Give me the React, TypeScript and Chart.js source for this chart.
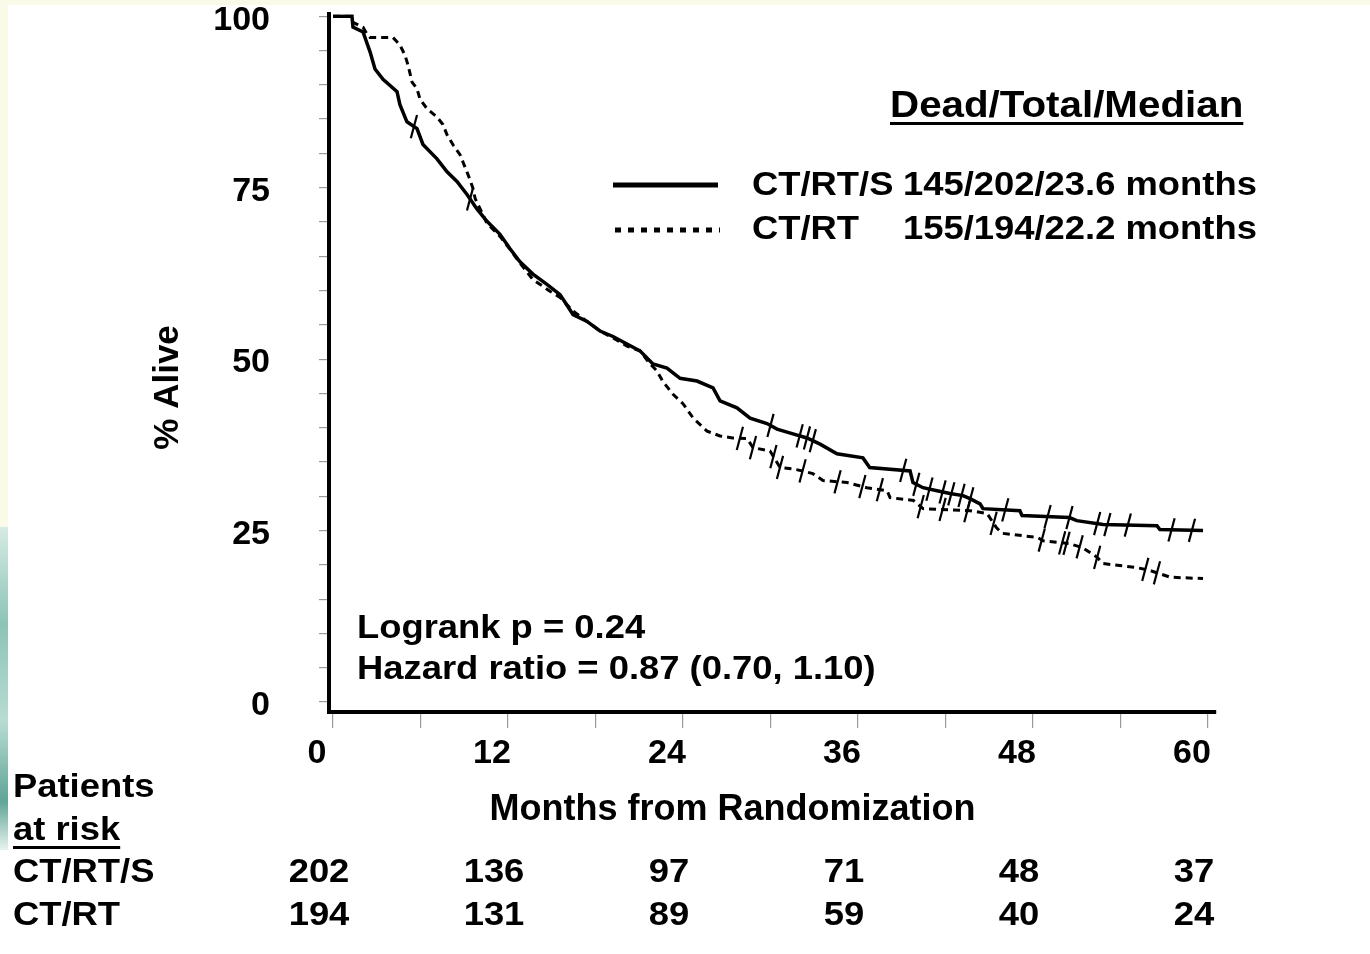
import React, { useEffect, useRef } from 'react';
import { Chart, registerables } from 'chart.js';

Chart.register(...registerables);

// ---------------- DATA ----------------
const seriesNames = ['CT/RT/S', 'CT/RT'];
const legendStats = ['145/202/23.6 months', '155/194/22.2 months'];
const legendHeader = 'Dead/Total/Median';
const statLines = ['Logrank p = 0.24', 'Hazard ratio = 0.87 (0.70, 1.10)'];

// CT/RT/S (solid) Kaplan-Meier curve
const solidMonths = [0, 1.3, 1.37, 2.06, 2.54, 2.88, 3.43, 4.39, 4.59, 5.07, 5.76, 6.17, 7.13, 7.82, 8.5, 9.19, 9.87, 10.56, 11.45, 12.14, 12.82, 13.71, 14.67, 15.57, 16.46, 17.42, 18.31, 19.2, 20.16, 21.05, 21.94, 22.9, 23.8, 24.96, 26.06, 26.54, 27.7, 28.6, 29.76, 30.45, 31.54, 32.5, 33.4, 34.56, 36.34, 36.8, 39.57, 39.77, 40.46, 41.42, 42.3, 43.2, 43.68, 44.37, 44.57, 47.1, 47.25, 50.5, 51.0, 52.8, 56.5, 56.7, 59.66];
const solidAlive = [100, 100, 98.4, 97.7, 94.8, 92.3, 90.8, 89.0, 87.1, 84.6, 83.6, 81.3, 79.2, 77.3, 75.9, 74.0, 71.9, 70.1, 68.2, 66.1, 64.2, 62.4, 60.9, 59.4, 56.5, 55.5, 54.1, 53.3, 52.2, 51.2, 49.3, 48.7, 47.2, 46.8, 45.8, 43.9, 42.9, 41.4, 40.6, 39.8, 39.1, 38.5, 37.6, 36.2, 35.6, 34.2, 33.7, 32.0, 31.25, 30.8, 30.4, 30.1, 29.65, 28.9, 28.2, 27.9, 27.2, 26.9, 26.45, 25.9, 25.7, 25.15, 25.0];

// CT/RT (dashed) Kaplan-Meier curve
const dashedMonths = [0, 1.3, 1.37, 2.06, 2.33, 2.54, 4.11, 4.59, 4.94, 5.14, 5.42, 5.76, 5.97, 6.45, 7.13, 7.54, 7.82, 8.23, 8.71, 9.26, 9.6, 9.75, 10.56, 11.45, 12.14, 12.82, 13.71, 14.88, 15.57, 16.46, 17.42, 18.31, 19.2, 20.16, 21.05, 21.74, 22.2, 22.6, 23.3, 24.0, 24.7, 25.65, 26.54, 27.4, 28.4, 28.8, 29.97, 30.65, 31.5, 32.2, 32.9, 33.6, 35.25, 36.6, 38.0, 38.2, 39.8, 40.46, 43.68, 44.85, 45.5, 45.9, 48.3, 48.7, 50.5, 51.4, 52.4, 52.8, 55.1, 56.0, 57.4, 59.66];
const dashedAlive = [100, 100, 99.1, 98.4, 97.4, 96.9, 96.9, 95.8, 94.3, 92.9, 90.4, 89.4, 87.9, 86.5, 85.3, 84.2, 82.7, 81.25, 79.8, 76.9, 74.9, 73.4, 69.8, 67.9, 66.0, 64.0, 61.6, 59.9, 59.0, 57.0, 55.5, 54.1, 53.1, 51.9, 51.2, 49.3, 48.3, 46.8, 44.9, 43.5, 41.4, 39.5, 38.8, 38.5, 38.4, 37.1, 36.6, 34.2, 34.0, 33.7, 33.3, 32.3, 32.0, 31.25, 30.8, 29.8, 29.4, 28.2, 27.9, 27.5, 25.4, 24.6, 24.0, 23.5, 23.1, 22.5, 21.1, 20.2, 19.6, 19.2, 18.2, 18.0];

// censoring times
const solidCensored = [5.55, 9.4, 30.0, 32.0, 32.5, 32.9, 39.1, 40.0, 40.9, 41.8, 42.4, 43.1, 43.7, 46.1, 49.0, 50.5, 52.4, 53.1, 54.5, 57.5, 58.9];
const dashedCensored = [27.9, 28.8, 30.2, 30.65, 32.2, 34.6, 36.3, 37.5, 40.3, 41.8, 43.5, 45.3, 48.6, 50.0, 50.3, 51.2, 52.4, 55.7, 56.5];

// axes
const xTickValues = [0, 6, 12, 18, 24, 30, 36, 42, 48, 54, 60];
const yTickValues = [0, 5, 10, 15, 20, 25, 30, 35, 40, 45, 50, 55, 60, 65, 70, 75, 80, 85, 90, 95, 100];

// patients at risk
const riskMonths = [0, 12, 24, 36, 48, 60];
const riskCTRTS = [202, 136, 97, 71, 48, 37];
const riskCTRT = [194, 131, 89, 59, 40, 24];

// ---------------- HELPERS ----------------
const FONT = '"Liberation Sans", Arial, Helvetica, sans-serif';

// position of a censor mark on the drawn curve
function valueAt(months: number[], alive: number[], t: number) {
  for (let i = 0; i < months.length - 1; i++) {
    if (t >= months[i] && t <= months[i + 1]) {
      const f = (t - months[i]) / (months[i + 1] - months[i] || 1);
      return alive[i] + f * (alive[i + 1] - alive[i]);
    }
  }
  return alive[alive.length - 1];
}

function drawText(ctx: CanvasRenderingContext2D, text: string, x: number, y: number, size: number, align: 'left' | 'center' = 'left', stretch = 1.07) {
  ctx.save();
  ctx.font = `bold ${size}px ${FONT}`;
  ctx.textBaseline = 'middle';
  ctx.textAlign = 'left';
  const w = ctx.measureText(text).width * stretch;
  const left = align === 'center' ? x - w / 2 : x;
  ctx.translate(left, y);
  ctx.scale(stretch, 1);
  ctx.fillStyle = '#000';
  ctx.fillText(text, 0, 0);
  ctx.restore();
  return w;
}

const backgroundPlugin = {
  id: 'slideBackground',
  beforeDraw(chart: any) {
    const ctx = chart.ctx as CanvasRenderingContext2D;
    const W = chart.width;
    const H = chart.height;
    ctx.save();
    ctx.fillStyle = '#ffffff';
    ctx.fillRect(0, 0, W, H);
    ctx.fillStyle = '#fafae8';
    ctx.fillRect(0, 0, W, 5);
    ctx.fillRect(0, 0, 8, 527);
    const g = ctx.createLinearGradient(0, 527, 0, 850);
    g.addColorStop(0, '#d6ebe4');
    g.addColorStop(0.3, '#8cc4b6');
    g.addColorStop(0.6, '#b8dcd2');
    g.addColorStop(0.85, '#5fa596');
    g.addColorStop(1, '#e8f3ef');
    ctx.fillStyle = g;
    ctx.fillRect(0, 527, 8, 323);
    ctx.restore();
  },
};

const annotationPlugin = {
  id: 'kmAnnotations',
  afterDraw(chart: any) {
    const ctx = chart.ctx as CanvasRenderingContext2D;
    const xs = chart.scales.x;
    ctx.save();
    // legend header
    const hw = drawText(ctx, legendHeader, 890, 107, 37, 'left', 1.09);
    ctx.fillStyle = '#000';
    ctx.fillRect(890, 122, hw, 3);
    // legend samples
    ctx.strokeStyle = '#000';
    ctx.lineWidth = 5;
    ctx.setLineDash([]);
    ctx.beginPath();
    ctx.moveTo(613, 185);
    ctx.lineTo(718, 185);
    ctx.stroke();
    ctx.setLineDash([6, 7]);
    ctx.beginPath();
    ctx.moveTo(615, 230);
    ctx.lineTo(720, 230);
    ctx.stroke();
    ctx.setLineDash([]);
    // legend texts
    drawText(ctx, seriesNames[0], 752, 186, 34);
    drawText(ctx, legendStats[0], 903, 186, 34);
    drawText(ctx, seriesNames[1], 752, 230, 34);
    drawText(ctx, legendStats[1], 903, 230, 34);
    // statistics
    drawText(ctx, statLines[0], 357, 629, 34);
    drawText(ctx, statLines[1], 357, 670, 34);
    // at risk table
    drawText(ctx, 'Patients', 13, 788, 34);
    const aw = drawText(ctx, 'at risk', 13, 831, 34);
    ctx.fillStyle = '#000';
    ctx.fillRect(13, 846, aw, 3);
    drawText(ctx, seriesNames[0], 13, 873, 34);
    drawText(ctx, seriesNames[1], 13, 916, 34);
    riskMonths.forEach((m, i) => {
      const px = xs.getPixelForValue(m) - 14;
      drawText(ctx, String(riskCTRTS[i]), px, 873, 34, 'center');
      drawText(ctx, String(riskCTRT[i]), px, 916, 34, 'center');
    });
    ctx.restore();
  },
};

export default function App() {
  const canvasRef = useRef<HTMLCanvasElement | null>(null);

  useEffect(() => {
    const canvas = canvasRef.current;
    if (!canvas) return;

    const solidData = solidMonths.map((m, i) => ({ x: m, y: solidAlive[i] }));
    const dashedData = dashedMonths.map((m, i) => ({ x: m, y: dashedAlive[i] }));
    const solidCens = solidCensored.map((m) => ({ x: m, y: valueAt(solidMonths, solidAlive, m) }));
    const dashedCens = dashedCensored.map((m) => ({ x: m, y: valueAt(dashedMonths, dashedAlive, m) }));

    const tickFont = { family: FONT, size: 34, weight: 'bold' as const };

    const chart = new Chart(canvas, {
      type: 'line',
      data: {
        datasets: [
          {
            label: seriesNames[0],
            data: solidData,
            borderColor: '#000',
            borderWidth: 3.5,
            pointRadius: 0,
            tension: 0,
            fill: false,
          },
          {
            label: seriesNames[1],
            data: dashedData,
            borderColor: '#000',
            borderWidth: 3,
            borderDash: [7, 5],
            pointRadius: 0,
            tension: 0,
            fill: false,
          },
          {
            type: 'scatter',
            label: seriesNames[0] + ' censored',
            data: solidCens,
            showLine: false,
            pointStyle: 'line',
            pointRotation: 105,
            pointRadius: 12,
            pointBorderWidth: 2.2,
            pointBorderColor: '#000',
            pointBackgroundColor: '#000',
          } as any,
          {
            type: 'scatter',
            label: seriesNames[1] + ' censored',
            data: dashedCens,
            showLine: false,
            pointStyle: 'line',
            pointRotation: 105,
            pointRadius: 12,
            pointBorderWidth: 2.2,
            pointBorderColor: '#000',
            pointBackgroundColor: '#000',
          } as any,
        ],
      },
      options: {
        responsive: false,
        animation: false,
        devicePixelRatio: 1,
        layout: { padding: { left: 0, top: 12, right: 154, bottom: 0 } },
        plugins: {
          legend: { display: false },
          tooltip: { enabled: false },
        },
        scales: {
          x: {
            type: 'linear',
            min: -0.274,
            max: 60.549,
            afterBuildTicks: (s: any) => {
              s.ticks = xTickValues.map((v) => ({ value: v }));
            },
            afterFit: (s: any) => {
              s.height = 242;
              s.paddingLeft = 0;
              s.paddingRight = 0;
            },
            border: { display: true, color: '#000', width: 4 },
            grid: { drawOnChartArea: false, drawTicks: true, tickLength: 16, color: '#9a9a9a', lineWidth: 1.2 },
            ticks: {
              autoSkip: false,
              maxRotation: 0,
              minRotation: 0,
              padding: 5,
              labelOffset: -16,
              color: '#000',
              font: tickFont,
              callback: (v: any) => (Number(v) % 12 === 0 ? String(v) : ''),
            },
            title: {
              display: true,
              text: 'Months from Randomization        ',
              color: '#000',
              font: { family: FONT, size: 36, weight: 'bold' },
              padding: { top: 0, bottom: 122 },
            },
          },
          y: {
            type: 'linear',
            min: -1.453,
            max: 100.29,
            afterBuildTicks: (s: any) => {
              s.ticks = yTickValues.map((v) => ({ value: v }));
            },
            afterFit: (s: any) => {
              s.width = 329;
              s.paddingTop = 0;
              s.paddingBottom = 0;
            },
            border: { display: true, color: '#000', width: 4 },
            grid: { drawOnChartArea: false, drawTicks: true, tickLength: 10, color: '#9a9a9a', lineWidth: 1.2 },
            ticks: {
              autoSkip: false,
              padding: 49,
              labelOffset: 4,
              color: '#000',
              font: tickFont,
              callback: (v: any) => (Number(v) % 25 === 0 ? String(v) : ''),
            },
            title: {
              display: true,
              text: '% Alive     ',
              color: '#000',
              font: { family: FONT, size: 35, weight: 'bold' },
              padding: { top: 147, bottom: 0 },
            },
          },
        },
      } as any,
      plugins: [backgroundPlugin, annotationPlugin],
    });

    return () => chart.destroy();
  }, []);

  return (
    <div style={{ position: 'absolute', left: 0, top: 0, width: 1370, height: 954, background: '#fff' }}>
      <canvas ref={canvasRef} width={1370} height={954} style={{ display: 'block' }} />
    </div>
  );
}
